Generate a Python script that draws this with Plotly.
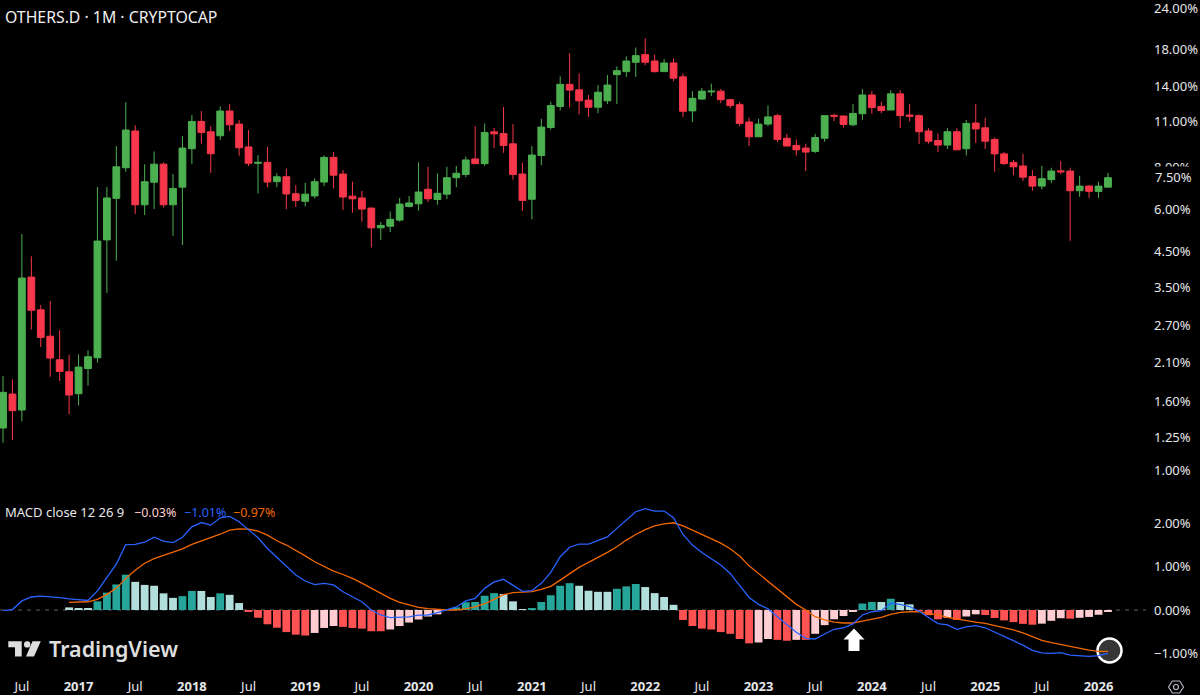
import pandas as pd
import plotly.graph_objects as go

W, H = 1200, 695
FONT = 'Noto Sans'
TEXT = '#e6e7ea'
GREEN = '#4caf50'
RED = '#f7374b'

# monthly bars, May 2016 to Feb 2026
months = [str(p) for p in pd.period_range('2016-05', '2026-02', freq='M')]

opens = [1.335, 1.686, 1.511, 3.77, 3.01, 2.51, 2.135, 1.965, 1.69, 2.01,
         2.165, 4.87, 6.48, 8.0, 10.30, 6.2, 7.24, 8.2, 6.2, 7.0,
         9.12, 11.0, 10.25, 9.97, 11.82, 10.8, 9.23, 8.25, 8.3, 7.27,
         7.52, 6.69, 6.35, 6.59, 7.25, 8.59, 7.66, 6.58, 6.5, 6.06,
         5.29, 5.35, 5.58, 6.13, 6.24, 6.9, 6.43, 6.67, 7.47, 7.64,
         8.5, 8.23, 10.24, 10.12, 9.43, 7.66, 6.44, 8.7, 10.55, 12.2,
         14.2, 13.67, 12.74, 12.13, 12.68, 15.18, 15.5, 16.53, 17.43, 16.67,
         15.5, 16.45, 14.95, 11.83, 12.83, 13.48, 13.55, 12.78, 12.35, 10.96,
         9.9, 10.8, 11.45, 9.8, 9.33, 9.16, 8.95, 9.8, 11.47, 11.42,
         10.75, 11.6, 13.2, 12.2, 11.9, 13.3, 11.5, 11.45, 10.3, 9.65,
         9.35, 10.25, 9.12, 10.88, 10.53, 9.72, 8.8, 8.3, 8.1, 7.53,
         7.05, 7.37, 7.83, 7.82, 6.83, 7.05, 6.8, 7.0]
highs = [1.909, 1.866, 5.07, 4.35, 3.11, 3.20, 2.615, 2.21, 2.215, 2.28,
         7.01, 7.01, 9.29, 12.55, 10.72, 8.2, 8.95, 8.3, 7.66, 9.95,
         11.5, 11.82, 10.65, 12.2, 12.4, 11.11, 10.37, 8.73, 9.23, 7.7,
         7.95, 7.1, 7.22, 7.44, 8.71, 8.91, 7.875, 7.27, 6.82, 6.09,
         5.51, 5.92, 6.5, 6.59, 8.3, 8.05, 7.7, 8.05, 8.1, 8.64,
         10.65, 10.85, 10.52, 12.15, 10.8, 8.28, 9.29, 11.2, 12.6, 15.0,
         17.6, 15.3, 13.2, 14.13, 15.13, 16.07, 17.2, 18.3, 19.5, 17.43,
         16.9, 16.97, 15.3, 13.55, 13.85, 14.27, 13.75, 12.83, 12.6, 11.28,
         11.2, 12.27, 11.6, 10.1, 9.72, 9.44, 10.1, 11.45, 11.6, 11.45,
         12.4, 13.75, 13.55, 12.6, 13.65, 13.65, 12.4, 11.55, 10.5, 10.12,
         10.5, 10.5, 11.11, 12.4, 11.28, 9.85, 8.91, 8.44, 8.8, 7.875,
         8.1, 8.0, 8.37, 8.0, 7.57, 7.1, 7.27, 7.72]
lows = [1.207, 1.229, 1.397, 2.63, 2.33, 1.90, 1.845, 1.47, 1.56, 1.785,
        2.09, 3.38, 4.22, 7.78, 5.82, 5.78, 6.02, 6.09, 5.01, 4.70,
        8.2, 9.44, 7.72, 9.68, 10.3, 8.69, 8.1, 6.7, 7.0, 7.0,
        6.02, 6.11, 6.13, 6.48, 7.05, 6.94, 5.98, 5.87, 5.52, 4.62,
        4.87, 5.14, 5.52, 6.09, 5.95, 6.32, 6.2, 6.45, 7.0, 7.5,
        8.2, 8.1, 9.16, 8.87, 7.37, 5.94, 5.61, 8.14, 10.4, 11.86,
        12.1, 11.55, 11.35, 11.64, 12.4, 12.4, 14.93, 14.93, 16.2, 15.4,
        15.5, 14.5, 11.35, 10.96, 12.78, 13.1, 12.47, 12.05, 10.65, 9.29,
        9.9, 10.65, 9.55, 9.27, 8.7, 7.82, 8.85, 9.57, 11.03, 10.55,
        10.65, 11.11, 11.6, 11.64, 11.9, 10.5, 11.0, 9.43, 9.44, 8.91,
        9.1, 9.05, 8.7, 9.5, 9.1, 7.78, 8.15, 7.6, 7.31, 6.83,
        6.9, 7.2, 7.65, 4.84, 6.55, 6.5, 6.5, 7.0]
closes = [1.706, 1.504, 3.746, 3.0, 2.49, 2.16, 1.97, 1.675, 2.03, 2.18,
          4.83, 6.50, 8.05, 10.37, 6.2, 7.27, 8.2, 6.2, 6.94, 9.16,
          11.0, 10.2, 8.81, 11.82, 10.75, 9.18, 8.25, 8.3, 7.25, 7.52,
          6.68, 6.39, 6.67, 7.27, 8.59, 7.6, 6.54, 6.46, 6.02, 5.29,
          5.38, 5.61, 6.23, 6.28, 6.77, 6.46, 6.71, 7.47, 7.7, 8.44,
          8.23, 10.2, 10.1, 9.33, 7.64, 6.39, 8.73, 10.58, 12.27, 14.2,
          13.65, 12.68, 12.13, 13.45, 14.13, 15.6, 16.67, 17.3, 16.53, 15.5,
          16.45, 14.82, 11.8, 12.9, 13.55, 13.55, 12.78, 12.27, 10.85, 9.9,
          10.8, 11.35, 9.72, 9.29, 9.05, 8.91, 9.85, 11.45, 11.4, 10.77,
          11.62, 13.2, 12.1, 11.86, 13.3, 11.45, 11.4, 10.25, 9.6, 9.35,
          10.25, 9.05, 10.85, 10.45, 9.6, 8.8, 8.23, 8.05, 7.5, 7.05,
          7.42, 7.82, 7.78, 6.83, 7.05, 6.8, 7.05, 7.47]

hist = [None] * 7 + [
    .06, .04, .04, .20, .40, .59, .815, .65, .58, .56,
    .385, .28, .32, .44, .44, .30, .385, .35, .16, -.03,
    -.18, -.33, -.41, -.51, -.57, -.59, -.53, -.415, -.37, -.39,
    -.415, -.43, -.49, -.49, -.45, -.37, -.29, -.22, -.15, -.10,
    .01, .06, .18, .185, .33, .39, .37, .20, .02, .045,
    .185, .34, .56, .62, .56, .445, .42, .42, .49, .545,
    .60, .53, .39, .30, .12, -.23, -.37, -.43, -.45, -.51,
    -.55, -.67, -.77, -.75, -.67, -.69, -.71, -.69, -.69, -.55,
    -.35, -.215, -.14, -.04, .15, .185, .185, .26, .185, .13,
    -.01, -.12, -.215, -.18, -.23, -.15, -.10, -.115, -.185, -.24,
    -.28, -.32, -.34, -.315, -.25, -.19, -.2, -.18, -.16, -.11,
    -.03]
macd = [-.015, .01, .21, .30, .32, .31, .285, .255, .23, .22,
        .44, .745, 1.06, 1.51, 1.515, 1.57, 1.68, 1.59, 1.555, 1.68,
        1.92, 2.02, 1.96, 2.13, 2.16, 2.04, 1.86, 1.67, 1.42, 1.215,
        1.015, .81, .67, .585, .615, .58, .42, .31, .19, 0,
        -.115, -.175, -.175, -.16, -.12, -.115, -.06, 0, .07, .21,
        .27, .5, .65, .71, .58, .43, .445, .615, .87, 1.23,
        1.45, 1.52, 1.52, 1.60, 1.69, 1.885, 2.08, 2.27, 2.34, 2.285,
        2.285, 2.13, 1.745, 1.5, 1.33, 1.19, 1.04, .845, .58, .29,
        .13, .03, -.155, -.33, -.515, -.655, -.67, -.555, -.445, -.41,
        -.32, -.115, -.04, -.015, .155, .13, .08, -.03, -.175, -.315,
        -.345, -.445, -.39, -.36, -.41, -.51, -.615, -.70, -.81, -.93,
        -.99, -1.0, -.985, -1.04, -1.055, -1.07, -1.055, -1.0]
signal = [None] * 7 + [
    .175, .175, .19, .245, .36, .50, .73, .92, 1.08, 1.185,
    1.26, 1.32, 1.41, 1.515, 1.59, 1.67, 1.75, 1.845, 1.875, 1.87,
    1.82, 1.73, 1.60, 1.5, 1.38, 1.25, 1.115, 1.0, .90, .82,
    .73, .62, .5, .385, .27, .175, .115, .06, .03, .01,
    0, 0, .025, .07, .145, .245, .355, .40, .41, .425,
    .475, .545, .69, .84, .985, 1.10, 1.21, 1.33, 1.46, 1.615,
    1.745, 1.855, 1.945, 1.99, 2.015, 1.945, 1.845, 1.745, 1.655, 1.545,
    1.415, 1.245, 1.02, .84, .67, .49, .31, .13, 0, -.155,
    -.23, -.28, -.30, -.30, -.255, -.21, -.17, -.10, -.055, -.04,
    -.04, -.085, -.115, -.17, -.21, -.255, -.28, -.31, -.355, -.41,
    -.46, -.53, -.615, -.70, -.755, -.80, -.84, -.885, -.925, -.955,
    -.955]

price_ticks = [24, 18, 14, 11, 8, 6, 4.5, 3.5, 2.7, 2.1, 1.6, 1.25, 1]
price_labels = ['24.00%', '18.00%', '14.00%', '11.00%', '8.00%', '6.00%', '4.50%',
                '3.50%', '2.70%', '2.10%', '1.60%', '1.25%', '1.00%']
macd_ticks = [2, 1, 0, -1]
macd_labels = ['2.00%', '1.00%', '0.00%', '\u22121.00%']


def px_x(v):
    return v / W


def px_y(v):
    return 1 - v / H


def hist_colors(values):
    colors = []
    prev = None
    for v in values:
        if v is None:
            colors.append('rgba(0,0,0,0)')
        elif prev is None:
            colors.append('#b2dfdb')
        elif v >= 0:
            colors.append('#26a69a' if v > prev else '#b2dfdb')
        else:
            colors.append('#ffcdd2' if v > prev else '#ff5252')
        if v is not None:
            prev = v
    return colors


def poly(points):
    path = ' L '.join(f'{px_x(x):.5f},{px_y(y):.5f}' for x, y in points)
    return 'M ' + path + ' Z'


# x labels: Jul and the bold year, every six months
x_ticks = months[2::6]
x_labels = [f'<b>{m[:4]}</b>' if m.endswith('-01') else 'Jul' for m in x_ticks]

fig = go.Figure()

fig.add_trace(go.Candlestick(
    x=months, open=opens, high=highs, low=lows, close=closes,
    increasing=dict(line=dict(color=GREEN, width=1), fillcolor=GREEN),
    decreasing=dict(line=dict(color=RED, width=1), fillcolor=RED),
    whiskerwidth=0, hoverinfo='skip', showlegend=False, yaxis='y',
))
fig.add_trace(go.Bar(
    x=months, y=hist, marker_color=hist_colors(hist), marker_line_width=0,
    hoverinfo='skip', showlegend=False, yaxis='y2',
))
fig.add_trace(go.Scatter(
    x=months, y=signal, mode='lines', line=dict(color='#f26800', width=1.3),
    hoverinfo='skip', showlegend=False, yaxis='y2',
))
fig.add_trace(go.Scatter(
    x=months, y=macd, mode='lines', line=dict(color='#2962ff', width=1.3),
    hoverinfo='skip', showlegend=False, yaxis='y2',
))

LOGO = '#dedede'
shapes = [
    # last price line, only shows over candle bodies
    dict(type='line', xref='paper', x0=0, x1=px_x(1150), yref='y', y0=0.8733, y1=0.8733,
         line=dict(color='#000000', width=1, dash='dot'), layer='above'),
    # histogram zero line
    dict(type='line', xref='paper', x0=0, x1=px_x(1146), yref='y2', y0=0, y1=0,
         line=dict(color='#5d606b', width=1, dash='4px,5px'), layer='below'),
    # circle at the last MACD value
    dict(type='circle', xref='paper', yref='paper',
         x0=px_x(1097.5), x1=px_x(1121.5), y0=px_y(662.5), y1=px_y(638.5),
         fillcolor='#363636', line=dict(color='#ffffff', width=2.5), layer='below'),
    # white arrow
    dict(type='path', xref='paper', yref='paper', fillcolor='#ffffff', line_width=0, layer='above',
         path=poly([(854, 628.5), (864.5, 639.5), (859.5, 639.5), (859.5, 651),
                    (848.5, 651), (848.5, 639.5), (843.5, 639.5)])),
    # TradingView logo
    dict(type='path', xref='paper', yref='paper', fillcolor=LOGO, line_width=0, layer='above',
         path=poly([(8.3, 641.3), (21.7, 641.3), (21.7, 656.5), (15, 656.5), (15, 647.3), (8.3, 647.3)])),
    dict(type='circle', xref='paper', yref='paper', fillcolor=LOGO, line_width=0, layer='above',
         x0=px_x(24), x1=px_x(30.4), y0=px_y(647.6), y1=px_y(641.2)),
    dict(type='path', xref='paper', yref='paper', fillcolor=LOGO, line_width=0, layer='above',
         path=poly([(32.5, 641.3), (40.8, 641.3), (34, 656.5), (26, 656.5)])),
    # settings hexagon
    dict(type='path', xref='paper', yref='paper', fillcolor='rgba(0,0,0,0)',
         line=dict(color='#b2b5be', width=1.2), layer='above',
         path=poly([(1168.5, 687), (1172.3, 681), (1179.7, 681), (1183.5, 687), (1179.7, 693), (1172.3, 693)])),
    dict(type='circle', xref='paper', yref='paper', fillcolor='rgba(0,0,0,0)',
         line=dict(color='#b2b5be', width=1.2), layer='above',
         x0=px_x(1173.5), x1=px_x(1178.5), y0=px_y(689.5), y1=px_y(684.5)),
]

annotations = [
    dict(text='OTHERS.D \u00b7 1M \u00b7 CRYPTOCAP', x=px_x(3), y=px_y(17), font=dict(size=15.8, color='#f0f0f0')),
    dict(text='MACD close 12 26 9', x=px_x(3), y=px_y(512), font=dict(size=13, color=TEXT)),
    dict(text='\u22120.03%', x=px_x(132), y=px_y(512), font=dict(size=12.5, color='#ffcdd2')),
    dict(text='\u22121.01%', x=px_x(182), y=px_y(512), font=dict(size=12.5, color='#2962ff')),
    dict(text='\u22120.97%', x=px_x(231), y=px_y(512), font=dict(size=12.5, color='#f26800')),
    dict(text='TradingView', x=px_x(47), y=px_y(648.5), font=dict(size=21.5, color=LOGO, weight=600)),
]
for a in annotations:
    a.update(xref='paper', yref='paper', xanchor='left', yanchor='middle', showarrow=False)

# last price label sits over the 8.00% tick and hides its lower half
annotations.append(dict(
    text='7.50%', xref='paper', x=px_x(1153), yref='y', y=0.875, xanchor='left', yanchor='middle',
    showarrow=False, font=dict(size=13, color=TEXT), bgcolor='#000000', borderpad=1,
))

fig.update_layout(
    width=W, height=H, margin=dict(l=0, r=0, t=0, b=0),
    paper_bgcolor='#000000', plot_bgcolor='#000000',
    font=dict(family=FONT, color=TEXT, size=13),
    boxgap=0.28, boxgroupgap=0, bargap=0.17, dragmode=False,
    xaxis=dict(
        type='category', categoryorder='array', categoryarray=months,
        domain=[0, px_x(1150)], range=[-0.318, 121.45], anchor='y2',
        tickmode='array', tickvals=x_ticks, ticktext=x_labels,
        showgrid=False, zeroline=False, showline=False, ticks='',
        rangeslider=dict(visible=False), tickfont=dict(size=13, color=TEXT),
        ticklabelstandoff=5, ticklabeloverflow='allow',
    ),
    yaxis=dict(
        type='log', domain=[px_y(497), 1], range=[-0.0807, 1.4043], side='right',
        anchor='x', tickmode='array', tickvals=price_ticks, ticktext=price_labels,
        showgrid=False, zeroline=False, showline=False, ticks='',
        tickfont=dict(size=13, color=TEXT), fixedrange=True,
        ticklabelstandoff=3, ticklabeloverflow='allow',
    ),
    yaxis2=dict(
        domain=[px_y(672), px_y(497)], range=[-1.432, 2.61], side='right',
        anchor='x', tickmode='array', tickvals=macd_ticks, ticktext=macd_labels,
        showgrid=False, zeroline=False, showline=False, ticks='',
        tickfont=dict(size=13, color=TEXT), fixedrange=True,
        ticklabelstandoff=3, ticklabeloverflow='allow',
    ),
    shapes=shapes,
    annotations=annotations,
)

fig.write_html('out.html', config=dict(displayModeBar=False),
               post_script="document.body.style.margin='0';document.body.style.background='#000';")
